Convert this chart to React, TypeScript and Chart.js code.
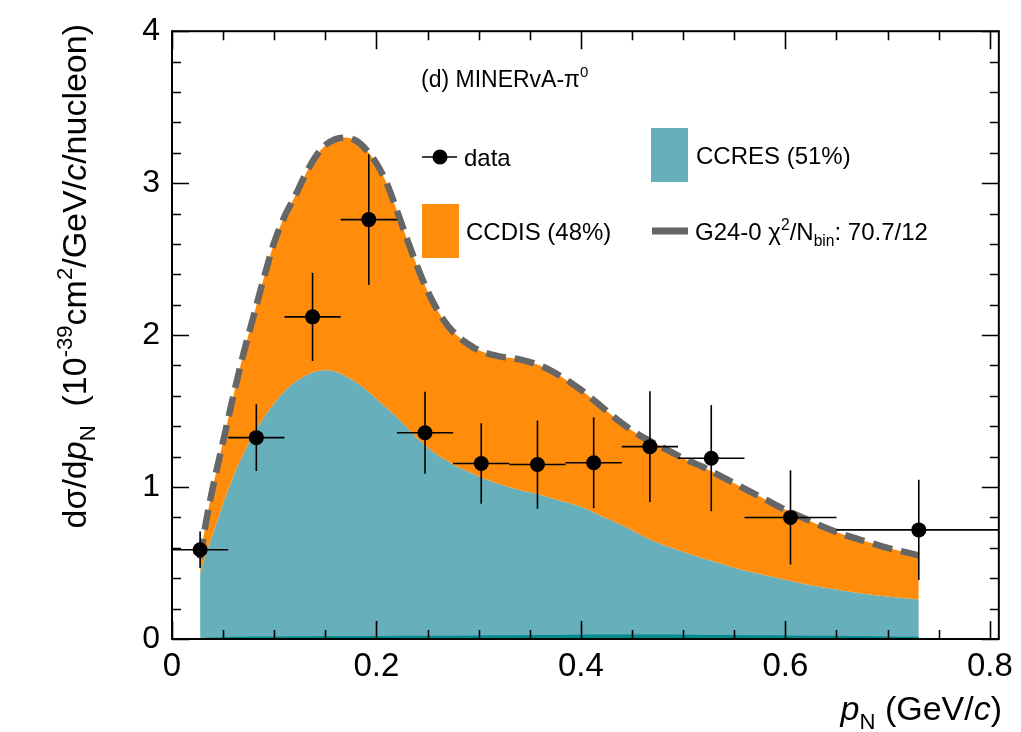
import React, { useEffect, useRef } from "react";
import { Chart, registerables } from "chart.js";

Chart.register(...registerables);

// ---- data ----
const binEdges = [0, 0.055, 0.11, 0.165, 0.22, 0.275, 0.33, 0.385, 0.44, 0.495, 0.56, 0.65, 0.81];
const dataX = [0.0275, 0.0825, 0.1375, 0.1925, 0.2475, 0.3025, 0.3575, 0.4125, 0.4675, 0.5275, 0.605, 0.7305];
const dataY = [0.587, 1.325, 2.12, 2.76, 1.357, 1.155, 1.148, 1.16, 1.266, 1.19, 0.8, 0.718];
const dataErr = [0.12, 0.22, 0.29, 0.43, 0.27, 0.265, 0.29, 0.3, 0.365, 0.35, 0.31, 0.33];

const curveX = [0.0275, 0.033, 0.04, 0.05, 0.06, 0.07, 0.08, 0.09, 0.1, 0.11, 0.12, 0.13, 0.14, 0.15, 0.16, 0.17, 0.18, 0.19, 0.2, 0.21, 0.22, 0.23, 0.24, 0.25, 0.26, 0.27, 0.28, 0.29, 0.3, 0.32, 0.34, 0.36, 0.38, 0.4, 0.42, 0.44, 0.46, 0.48, 0.5, 0.52, 0.54, 0.56, 0.58, 0.6, 0.62, 0.64, 0.66, 0.68, 0.7, 0.7305];
const totalY = [0.53, 0.76, 1.0, 1.3, 1.6, 1.88, 2.13, 2.38, 2.61, 2.78, 2.91, 3.05, 3.17, 3.25, 3.29, 3.3, 3.28, 3.22, 3.13, 3.0, 2.82, 2.63, 2.45, 2.29, 2.16, 2.06, 1.99, 1.94, 1.9, 1.86, 1.84, 1.8, 1.73, 1.64, 1.53, 1.42, 1.33, 1.26, 1.19, 1.13, 1.06, 0.99, 0.92, 0.85, 0.79, 0.73, 0.68, 0.64, 0.6, 0.55];
const ccresY = [0.43, 0.56, 0.69, 0.89, 1.07, 1.22, 1.35, 1.46, 1.55, 1.63, 1.69, 1.73, 1.76, 1.77, 1.76, 1.73, 1.69, 1.64, 1.58, 1.52, 1.46, 1.39, 1.32, 1.26, 1.21, 1.17, 1.13, 1.1, 1.07, 1.02, 0.98, 0.95, 0.91, 0.87, 0.81, 0.75, 0.68, 0.62, 0.575, 0.53, 0.49, 0.45, 0.42, 0.39, 0.36, 0.335, 0.315, 0.295, 0.28, 0.26];
const otherY = [0.005, 0.008, 0.01, 0.012, 0.014, 0.015, 0.016, 0.016, 0.017, 0.017, 0.018, 0.018, 0.018, 0.019, 0.019, 0.019, 0.02, 0.02, 0.02, 0.02, 0.021, 0.021, 0.021, 0.022, 0.022, 0.022, 0.022, 0.023, 0.023, 0.024, 0.025, 0.026, 0.027, 0.028, 0.029, 0.03, 0.03, 0.029, 0.028, 0.027, 0.026, 0.025, 0.024, 0.023, 0.022, 0.021, 0.02, 0.019, 0.017, 0.015];

const xTicks = [0, 0.2, 0.4, 0.6, 0.8];
const yTicks = [0, 1, 2, 3, 4];

const TEAL = "#67b0bb";
const ORANGE = "#ff8c0b";
const DARKTEAL = "#008c8c";
const GRAY = "#666666";
const FONT = "'Liberation Sans', Arial, Helvetica, sans-serif";

type Part = { t: string; it?: boolean; sub?: boolean; sup?: boolean };

function drawRich(ctx: CanvasRenderingContext2D, parts: Part[], x: number, y: number, size: number, align: "left" | "right") {
  const fontFor = (p: Part) => {
    const s = p.sub || p.sup ? size * 0.65 : size;
    return `${p.it ? "italic " : ""}${s}px ${FONT}`;
  };
  let w = 0;
  for (const p of parts) {
    ctx.font = fontFor(p);
    w += ctx.measureText(p.t).width;
  }
  let cx = align === "right" ? x - w : x;
  ctx.textAlign = "left";
  ctx.textBaseline = "alphabetic";
  for (const p of parts) {
    ctx.font = fontFor(p);
    const dy = p.sub ? size * 0.25 : p.sup ? -size * 0.42 : 0;
    ctx.fillText(p.t, cx, y + dy);
    cx += ctx.measureText(p.t).width;
  }
}

const rootPlugin = {
  id: "rootStyle",
  beforeDatasetDraw(chart: any, args: any) {
    if (args.index !== 3) return;
    const { ctx, chartArea: a } = chart;
    const xs = chart.scales.x;
    const ys = chart.scales.y;
    ctx.save();
    ctx.beginPath();
    ctx.rect(a.left, a.top, a.right - a.left, a.bottom - a.top);
    ctx.clip();
    ctx.strokeStyle = "#000";
    ctx.lineWidth = 1.6;
    for (let i = 0; i < dataX.length; i++) {
      const px = xs.getPixelForValue(dataX[i]);
      const py = ys.getPixelForValue(dataY[i]);
      ctx.beginPath();
      ctx.moveTo(xs.getPixelForValue(binEdges[i]), py);
      ctx.lineTo(xs.getPixelForValue(binEdges[i + 1]), py);
      ctx.moveTo(px, ys.getPixelForValue(dataY[i] - dataErr[i]));
      ctx.lineTo(px, ys.getPixelForValue(dataY[i] + dataErr[i]));
      ctx.stroke();
    }
    ctx.restore();
  },
  afterDatasetsDraw(chart: any) {
    const { ctx, chartArea: a } = chart;
    const xs = chart.scales.x;
    const ys = chart.scales.y;
    ctx.save();
    ctx.strokeStyle = "#000";
    ctx.lineWidth = 1.6;
    for (let k = 0; k <= 16; k++) {
      const v = k * 0.05;
      const major = k % 4 === 0;
      const len = major ? 18 : 9;
      const px = Math.round(xs.getPixelForValue(v)) + 0.5;
      ctx.beginPath();
      ctx.moveTo(px, a.bottom);
      ctx.lineTo(px, a.bottom - len);
      ctx.moveTo(px, a.top);
      ctx.lineTo(px, a.top + len);
      ctx.stroke();
    }
    for (let k = 0; k <= 20; k++) {
      const v = k * 0.2;
      const major = k % 5 === 0;
      const len = major ? 17 : 9;
      const py = Math.round(ys.getPixelForValue(v)) + 0.5;
      ctx.beginPath();
      ctx.moveTo(a.left, py);
      ctx.lineTo(a.left + len, py);
      ctx.moveTo(a.right, py);
      ctx.lineTo(a.right - len, py);
      ctx.stroke();
    }
    ctx.lineWidth = 2;
    ctx.strokeRect(a.left, a.top, a.right - a.left, a.bottom - a.top);
    ctx.restore();
  },
  afterDraw(chart: any) {
    const { ctx } = chart;
    ctx.save();
    ctx.fillStyle = "#000";
    // axis titles
    drawRich(ctx, [{ t: "p", it: true }, { t: "N", sub: true }, { t: " (GeV/" }, { t: "c", it: true }, { t: ")" }], 1002, 720, 34, "right");
    ctx.save();
    ctx.translate(86, 24);
    ctx.rotate(-Math.PI / 2);
    drawRich(
      ctx,
      [
        { t: "d\u03c3/d" },
        { t: "p", it: true },
        { t: "N", sub: true },
        { t: "  (10" },
        { t: "-39", sup: true },
        { t: "cm" },
        { t: "2", sup: true },
        { t: "/GeV/" },
        { t: "c", it: true },
        { t: "/nucleon)" },
      ],
      0,
      0,
      34,
      "right"
    );
    ctx.restore();

    // legend / labels
    const fs = 24;
    drawRich(ctx, [{ t: "(d) MINERvA-\u03c0" }, { t: "0", sup: true }], 421, 87, 23, "left");

    // data entry
    ctx.strokeStyle = "#000";
    ctx.lineWidth = 1.6;
    ctx.beginPath();
    ctx.moveTo(422, 157);
    ctx.lineTo(457, 157);
    ctx.stroke();
    ctx.beginPath();
    ctx.arc(440, 157, 7.5, 0, Math.PI * 2);
    ctx.fill();
    drawRich(ctx, [{ t: "data" }], 464, 166, fs, "left");

    // CCRES
    ctx.fillStyle = TEAL;
    ctx.fillRect(651, 128, 37, 54);
    ctx.fillStyle = "#000";
    drawRich(ctx, [{ t: "CCRES (51%)" }], 696, 164, fs, "left");

    // CCDIS
    ctx.fillStyle = ORANGE;
    ctx.fillRect(422, 204, 37, 54);
    ctx.fillStyle = "#000";
    drawRich(ctx, [{ t: "CCDIS (48%)" }], 466, 240, fs, "left");

    // G24-0
    ctx.strokeStyle = GRAY;
    ctx.lineWidth = 7;
    ctx.beginPath();
    ctx.moveTo(652, 231);
    ctx.lineTo(688, 231);
    ctx.stroke();
    drawRich(
      ctx,
      [{ t: "G24-0 \u03c7" }, { t: "2", sup: true }, { t: "/N" }, { t: "bin", sub: true }, { t: ": 70.7/12" }],
      695,
      240,
      fs,
      "left"
    );
    ctx.restore();
  },
};

export default function App() {
  const ref = useRef<HTMLCanvasElement | null>(null);
  useEffect(() => {
    if (!ref.current) return;
    const pts = (ys: number[]) => curveX.map((x, i) => ({ x, y: ys[i] }));
    const chart = new Chart(ref.current, {
      type: "line",
      data: {
        datasets: [
          {
            label: "CCRES",
            data: pts(ccresY),
            borderWidth: 0,
            pointRadius: 0,
            fill: "origin",
            backgroundColor: TEAL,
            borderColor: "rgba(0,0,0,0)",
            cubicInterpolationMode: "monotone",
            order: 5,
          } as any,
          {
            label: "other",
            data: pts(otherY),
            borderWidth: 0,
            pointRadius: 0,
            fill: "origin",
            backgroundColor: DARKTEAL,
            borderColor: "rgba(0,0,0,0)",
            cubicInterpolationMode: "monotone",
            order: 4,
          } as any,
          {
            label: "G24-0",
            data: pts(totalY),
            borderWidth: 6.5,
            borderDash: [20, 9],
            borderColor: GRAY,
            pointRadius: 0,
            fill: { target: 0 },
            backgroundColor: ORANGE,
            cubicInterpolationMode: "monotone",
            order: 3,
          } as any,
          {
            label: "data",
            type: "scatter",
            data: dataX.map((x, i) => ({ x, y: dataY[i] })),
            showLine: false,
            pointRadius: 7.5,
            pointBackgroundColor: "#000",
            pointBorderWidth: 0,
            backgroundColor: "#000",
            order: 1,
          } as any,
        ],
      },
      options: {
        responsive: false,
        animation: false,
        devicePixelRatio: 1,
        layout: { padding: { left: 0, top: 26, right: 21, bottom: 0 } },
        plugins: { legend: { display: false }, tooltip: { enabled: false } },
        scales: {
          x: {
            type: "linear",
            min: 0,
            max: 0.8088,
            grid: { display: false, drawTicks: false },
            border: { display: false },
            afterBuildTicks: (s: any) => {
              s.ticks = xTicks.map((v) => ({ value: v }));
            },
            afterFit: (s: any) => {
              s.height = 93;
            },
            ticks: {
              padding: 8,
              color: "#000",
              font: { family: FONT, size: 33 },
              maxRotation: 0,
              autoSkip: false,
              callback: (v: any) => (v === 0 ? "0" : Number(v).toFixed(1)),
            },
          },
          y: {
            type: "linear",
            min: 0,
            max: 4,
            grid: { display: false, drawTicks: false },
            border: { display: false },
            afterBuildTicks: (s: any) => {
              s.ticks = yTicks.map((v) => ({ value: v }));
            },
            afterFit: (s: any) => {
              s.width = 172;
            },
            ticks: {
              padding: 12,
              color: "#000",
              font: { family: FONT, size: 32 },
              autoSkip: false,
              callback: (v: any) => String(v),
            },
          },
        },
      } as any,
      plugins: [rootPlugin],
    });
    return () => chart.destroy();
  }, []);
  return (
    <div style={{ position: "absolute", left: 0, top: 0, width: 1021, height: 732, background: "#fff" }}>
      <canvas ref={ref} width={1021} height={732} style={{ display: "block" }} />
    </div>
  );
}
